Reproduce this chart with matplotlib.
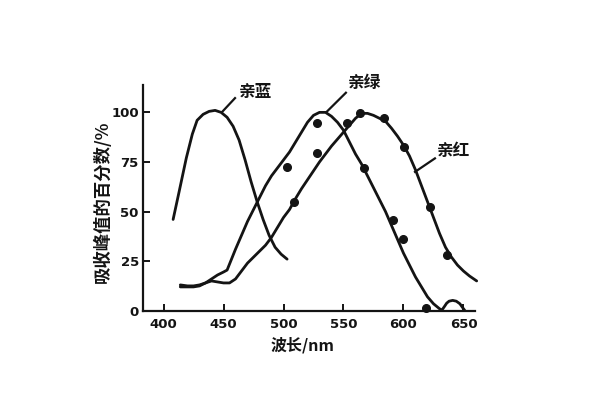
import matplotlib
matplotlib.use("Agg")
import matplotlib.pyplot as plt

plt.rcParams['font.family'] = ['Noto Sans CJK SC', 'DejaVu Sans']

# ---- data ----
blue_x = [408, 413, 419, 424, 428, 433, 438, 443, 448, 453, 458, 463, 468, 473,
          478, 483, 488, 493, 498, 503]
blue_y = [46, 60, 77, 89, 96, 99, 100.5, 101, 100, 97.5, 93, 86, 76, 65,
          55, 46, 38, 32, 28.5, 26]

green_x = [414, 420, 425, 430, 435, 440, 445, 450, 453, 456, 460, 465, 470, 475,
           480, 485, 490, 495, 500, 505, 510, 515, 520, 525, 530, 535, 540, 545,
           550, 555, 560, 565, 570, 575, 580, 585, 590, 595, 600, 605, 610, 615,
           620, 625, 630, 632, 634, 636, 638, 641, 644, 647, 649, 651]
green_y = [13, 12.5, 12.5, 13, 14, 16, 18, 19.5, 20.5, 25, 31, 38, 45, 51,
           57, 63, 68, 72, 76, 80, 85, 90, 95, 98.5, 100, 100, 98, 95,
           91, 85, 79, 74, 68, 62, 56, 50, 43, 36, 29, 23, 17, 12,
           7, 3.5, 1, 0.3, 2, 3.8, 4.8, 5.2, 4.8, 3.5, 1.8, 0.2]

red_x = [414, 420, 425, 430, 435, 440, 445, 450, 455, 460, 465, 470, 475, 480,
         485, 490, 495, 500, 505, 510, 515, 520, 525, 530, 535, 540, 545, 550,
         555, 560, 565, 570, 575, 580, 585, 590, 595, 600, 605, 610, 615, 620,
         625, 630, 635, 640, 645, 650, 655, 661]
red_y = [12, 12, 12, 12.5, 14, 15, 14.5, 14, 14, 16, 20, 24, 27, 30,
         33, 37, 42, 47, 51, 56.5, 61.5, 66, 70.5, 75, 79, 83, 86.5, 90,
         93.5, 97, 99.5, 99.5, 98.5, 97, 95.5, 92, 88, 83.5, 78, 71, 63, 55,
         47, 39, 32, 27, 23, 20, 17.5, 15]

green_dot_x = [503, 528, 567, 591, 600, 619]
green_dot_y = [72.6, 94.4, 72, 45.7, 36, 1.2]
red_dot_x = [509, 528, 553, 564, 583.6, 600.5, 622.5, 636]
red_dot_y = [55, 79.3, 94.4, 99.5, 97, 82.4, 52.4, 28]

x_ticks = [400, 450, 500, 550, 600, 650]
y_ticks = [0, 25, 50, 75, 100]
curve_labels = ['亲蓝', '亲绿', '亲红']
x_label = '波长/nm'
y_label = '吸收峰值的百分数/%'

# ---- figure ----
ink = '#141414'
fig = plt.figure(figsize=(6, 4), dpi=100)
ax = fig.add_axes([143 / 600, 89.3 / 400, 332 / 600, 225.7 / 400])
ax.set_xlim(382.9, 659.6)
ax.set_ylim(0, 113.8)

lw = 2.0
ax.plot(blue_x, blue_y, color=ink, lw=lw, solid_capstyle='round')
ax.plot(green_x, green_y, color=ink, lw=lw, solid_capstyle='round')
ax.plot(red_x, red_y, color=ink, lw=lw, solid_capstyle='round', clip_on=False)
ax.plot(green_dot_x, green_dot_y, 'o', color=ink, ms=5.5, clip_on=False)
ax.plot(red_dot_x, red_dot_y, 'o', color=ink, ms=5.5, clip_on=False)

# curve labels with leader lines
label_pos = [(476.3, 110.4), (567.9, 114.8), (641.3, 80.6)]
leader_from = [(448.8, 100.2), (536.0, 100.3), (609.6, 70.0)]
leader_to = [(459.6, 107.2), (552.0, 109.9), (626.2, 76.8)]
for name, (tx, ty), (x0, y0), (x1, y1) in zip(curve_labels, label_pos,
                                               leader_from, leader_to):
    ax.plot([x0, x1], [y0, y1], color=ink, lw=1.6, clip_on=False)
    ax.text(tx, ty, name, ha='center', va='center', fontsize=12,
            fontweight='bold', color=ink, clip_on=False)

for s in ['top', 'right']:
    ax.spines[s].set_visible(False)
for s in ['left', 'bottom']:
    ax.spines[s].set_linewidth(1.6)
    ax.spines[s].set_color(ink)

ax.set_xticks(x_ticks)
ax.set_yticks(y_ticks)
ax.set_xticklabels([str(v) for v in x_ticks], family='DejaVu Sans',
                   fontweight='bold', fontsize=9.5, color=ink)
ax.set_yticklabels([str(v) for v in y_ticks], family='DejaVu Sans',
                   fontweight='bold', fontsize=9.5, color=ink)
ax.tick_params(axis='both', direction='in', length=5, width=1.4, color=ink)
ax.tick_params(axis='x', pad=5)
ax.tick_params(axis='y', pad=3)

fig.text(303 / 600, 1 - 345 / 400, x_label, ha='center', va='center',
         fontsize=11.5, fontweight='bold', color=ink)
fig.text(102.5 / 600, 1 - 201.7 / 400, y_label, ha='center', va='center',
         rotation=90, fontsize=12.5, fontweight='bold', color=ink)

fig.savefig('out.png', dpi=100, facecolor='white')
